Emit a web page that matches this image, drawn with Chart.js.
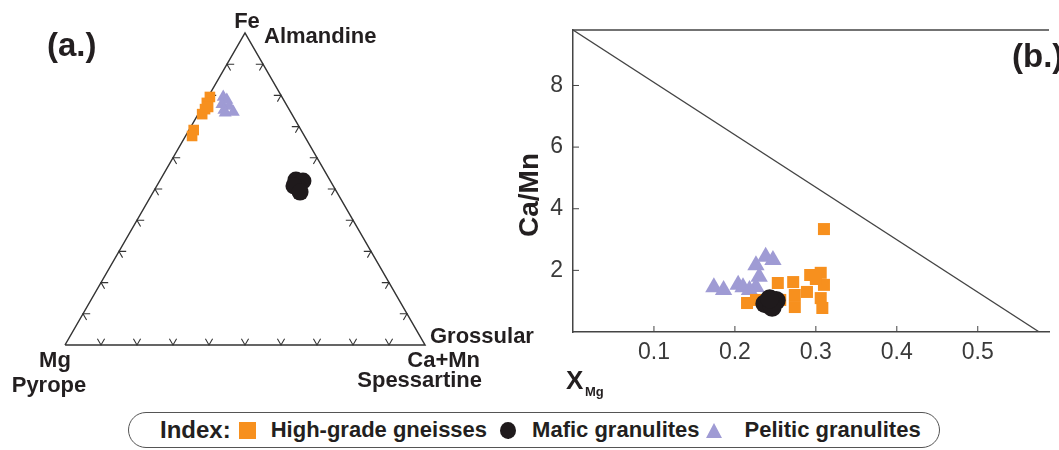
<!DOCTYPE html>
<html lang="en">
<head>
<meta charset="UTF-8">
<title>Garnet composition</title>
<style>
  body { margin: 0; background: #fff; font-family: "Liberation Sans", Arial, sans-serif; color: #231f20; }
  #wrap { position: relative; width: 1059px; height: 450px; overflow: hidden; }
  #ternary { position: absolute; left: 0; top: 0; }
  #ratio { position: absolute; left: 480px; top: 0; }
  .legend {
    position: absolute; left: 128px; top: 412px; width: 812px; height: 36px;
    box-sizing: border-box; border: 1.5px solid #555; border-radius: 18px;
    display: flex; align-items: center; padding-left: 31px;
    font-weight: bold; font-size: 22px; white-space: nowrap;
  }
  .legend .idx { font-size: 24px; }
  .sq { width: 17px; height: 17px; background: #f7901e; margin-left: 8px; }
  .dot { width: 16px; height: 17px; border-radius: 50%; background: #1f1a1c; margin-left: 13px; }
  .tri { width: 0; height: 0; border-left: 8.5px solid transparent; border-right: 8.5px solid transparent;
         border-bottom: 15px solid #9f9bd4; margin-left: 6px; }
</style>
</head>
<body>
<div id="wrap">
  <canvas id="ternary" width="540" height="410"></canvas>
  <canvas id="ratio" width="579" height="410"></canvas>
  <div class="legend">
    <span class="idx">Index:</span>
    <span class="sq"></span><span style="margin-left:15px">High-grade gneisses</span>
    <span class="dot"></span><span style="margin-left:16px">Mafic granulites</span>
    <span class="tri"></span><span style="margin-left:23px">Pelitic granulites</span>
  </div>
</div>

<script src="https://cdn.jsdelivr.net/npm/chart.js"></script>
<script>
// ternary compositions, [Mg, Fe, Ca+Mn]
const triangleCorners = [[1, 0, 0], [0, 1, 0], [0, 0, 1], [1, 0, 0]];
const tickFractions = [0.1, 0.2, 0.3, 0.4, 0.5, 0.6, 0.7, 0.8, 0.9];
const gneissTernary = [[0.200, 0.795, 0.005], [0.218, 0.776, 0.006], [0.233, 0.756, 0.011], [0.249, 0.740, 0.011],
                       [0.221, 0.763, 0.016], [0.298, 0.689, 0.013], [0.312, 0.670, 0.018]];
const maficTernary = [[0.094, 0.529, 0.377], [0.076, 0.526, 0.398], [0.099, 0.503, 0.398], [0.109, 0.510, 0.381],
                      [0.102, 0.490, 0.408]];
const peliticTernary = [[0.163, 0.795, 0.042], [0.158, 0.785, 0.057], [0.178, 0.772, 0.050], [0.161, 0.766, 0.073],
                        [0.182, 0.753, 0.065], [0.159, 0.747, 0.094], [0.183, 0.744, 0.073]];

// X_Mg vs Ca/Mn
const gneissXMg  = [0.310, 0.306, 0.310, 0.306, 0.308, 0.293, 0.289, 0.274, 0.272, 0.274, 0.256, 0.253, 0.226, 0.215, 0.300];
const gneissCaMn = [3.34, 1.92, 1.53, 1.10, 0.78, 1.85, 1.30, 0.81, 1.62, 1.20, 1.04, 1.59, 1.04, 0.94, 1.72];
const maficXMg   = [0.237, 0.251, 0.246, 0.243];
const maficCaMn  = [0.92, 1.02, 0.80, 1.08];
const peliticXMg  = [0.174, 0.186, 0.204, 0.210, 0.226, 0.238, 0.247, 0.230, 0.226, 0.218];
const peliticCaMn = [1.45, 1.36, 1.53, 1.45, 2.17, 2.44, 2.34, 1.79, 1.46, 1.36];
const limitXMg  = [0, 0.576];
const limitCaMn = [9.8, 0];
const xTicks = [0.1, 0.2, 0.3, 0.4, 0.5];
const yTicks = [2, 4, 6, 8];

const FONT = '"Liberation Sans", Arial, sans-serif';
const INK = '#231f20';
const ORANGE = '#f7901e', BLACK = '#1f1a1c', LILAC = '#9f9bd4';
Chart.defaults.font.family = FONT;

const H = Math.sqrt(3) / 2;
function toXY(c) {
  const s = c[0] + c[1] + c[2];
  const fe = c[1] / s, ca = c[2] / s;
  return { x: ca + fe / 2, y: fe * H };
}
const pairs = (xs, ys) => xs.map((v, i) => ({ x: v, y: ys[i] }));

// ---- (a.) ternary ----
const ternaryDecor = {
  id: 'ternaryDecor',
  beforeDatasetsDraw(chart) {
    const { ctx, scales: { x, y } } = chart;
    const arm = 0.02;
    const sides = [
      { at: t => [1 - t, 0, t], arms: [[0.5, H], [-0.5, H]] },
      { at: t => [1 - t, t, 0], arms: [[1, 0], [0.5, -H]] },
      { at: t => [0, t, 1 - t], arms: [[-1, 0], [-0.5, -H]] }
    ];
    ctx.save();
    ctx.strokeStyle = '#333';
    ctx.lineWidth = 1.1;
    sides.forEach(side => {
      tickFractions.forEach(t => {
        const p = toXY(side.at(t));
        ctx.beginPath();
        ctx.moveTo(x.getPixelForValue(p.x + side.arms[0][0] * arm), y.getPixelForValue(p.y + side.arms[0][1] * arm));
        ctx.lineTo(x.getPixelForValue(p.x), y.getPixelForValue(p.y));
        ctx.lineTo(x.getPixelForValue(p.x + side.arms[1][0] * arm), y.getPixelForValue(p.y + side.arms[1][1] * arm));
        ctx.stroke();
      });
    });
    ctx.restore();
  },
  afterDraw(chart) {
    const { ctx, scales: { x, y } } = chart;
    const pix = c => { const p = toXY(c); return [x.getPixelForValue(p.x), y.getPixelForValue(p.y)]; };
    const [mgX, mgY] = pix([1, 0, 0]);
    const [feX, feY] = pix([0, 1, 0]);
    const [caX, caY] = pix([0, 0, 1]);
    ctx.save();
    ctx.fillStyle = INK;
    ctx.textBaseline = 'alphabetic';
    ctx.font = 'bold 33px ' + FONT;
    ctx.textAlign = 'left';
    ctx.fillText('(a.)', 47, 56);
    ctx.font = 'bold 22px ' + FONT;
    ctx.textAlign = 'center';
    ctx.fillText('Fe', feX + 2, feY - 5);
    ctx.fillText('Mg', mgX - 10, mgY + 22);
    ctx.fillText('Pyrope', mgX - 16, mgY + 47);
    ctx.textAlign = 'left';
    ctx.fillText('Almandine', feX + 19, feY + 10);
    ctx.fillText('Grossular', caX + 5, caY - 2);
    ctx.textAlign = 'right';
    ctx.fillText('Ca+Mn', caX + 55, caY + 22);
    ctx.fillText('Spessartine', caX + 57, caY + 42);
    ctx.restore();
  }
};

new Chart(document.getElementById('ternary'), {
  type: 'scatter',
  data: {
    datasets: [
      { label: 'Mafic granulites', data: maficTernary.map(toXY), pointStyle: 'circle', pointRadius: 8.5,
        backgroundColor: BLACK, borderWidth: 0, clip: false },
      { label: 'High-grade gneisses', data: gneissTernary.map(toXY), pointStyle: 'rect', pointRadius: 7.5,
        backgroundColor: ORANGE, borderWidth: 0, clip: false },
      { label: 'Pelitic granulites', data: peliticTernary.map(toXY), pointStyle: 'triangle', pointRadius: 7.5,
        backgroundColor: LILAC, borderWidth: 0, clip: false },
      { type: 'line', data: triangleCorners.map(toXY), borderColor: '#333', borderWidth: 1.5,
        pointRadius: 0, fill: false, clip: false }
    ]
  },
  options: {
    responsive: false, animation: false, devicePixelRatio: 1,
    layout: { padding: { left: 65, right: 115, top: 33, bottom: 65 } },
    scales: {
      x: { type: 'linear', min: 0, max: 1, display: false },
      y: { type: 'linear', min: 0, max: H, display: false }
    },
    plugins: { legend: { display: false }, tooltip: { enabled: false } }
  },
  plugins: [ternaryDecor]
});

// ---- (b.) X_Mg vs Ca/Mn ----
const ratioDecor = {
  id: 'ratioDecor',
  afterDraw(chart) {
    const { ctx, chartArea: a, scales: { x, y } } = chart;
    ctx.save();
    ctx.strokeStyle = '#444';
    ctx.lineWidth = 1.5;
    ctx.beginPath();
    ctx.moveTo(a.left, a.top);
    ctx.lineTo(a.right, a.top);
    ctx.stroke();
    ctx.lineWidth = 1;
    xTicks.forEach(v => {
      const p = x.getPixelForValue(v);
      ctx.beginPath(); ctx.moveTo(p, a.bottom); ctx.lineTo(p, a.bottom - 6); ctx.stroke();
    });
    yTicks.forEach(v => {
      const p = y.getPixelForValue(v);
      ctx.beginPath(); ctx.moveTo(a.left, p); ctx.lineTo(a.left + 6, p); ctx.stroke();
    });
    ctx.fillStyle = INK;
    ctx.textBaseline = 'alphabetic';
    ctx.textAlign = 'left';
    ctx.font = 'bold 33px ' + FONT;
    ctx.fillText('(b.)', 532, 67);
    ctx.font = 'bold 26px ' + FONT;
    ctx.fillText('X', a.left - 7, 389);
    ctx.font = 'bold 13px ' + FONT;
    ctx.fillText('Mg', a.left + 12, 396);
    ctx.translate(50, 195);
    ctx.rotate(-Math.PI / 2);
    ctx.textAlign = 'center';
    ctx.textBaseline = 'middle';
    ctx.font = 'bold 28px ' + FONT;
    ctx.fillText('Ca/Mn', 0, 0);
    ctx.restore();
  }
};

const tickFont = { size: 23 };
new Chart(document.getElementById('ratio'), {
  type: 'scatter',
  data: {
    datasets: [
      { label: 'Mafic granulites', data: pairs(maficXMg, maficCaMn), pointStyle: 'circle', pointRadius: 9.5,
        backgroundColor: BLACK, borderWidth: 0 },
      { label: 'High-grade gneisses', data: pairs(gneissXMg, gneissCaMn), pointStyle: 'rect', pointRadius: 8.5,
        backgroundColor: ORANGE, borderWidth: 0 },
      { label: 'Pelitic granulites', data: pairs(peliticXMg, peliticCaMn), pointStyle: 'triangle', pointRadius: 10,
        backgroundColor: LILAC, borderWidth: 0 },
      { type: 'line', data: pairs(limitXMg, limitCaMn), borderColor: '#444', borderWidth: 1.3,
        pointRadius: 0, fill: false }
    ]
  },
  options: {
    responsive: false, animation: false, devicePixelRatio: 1,
    layout: { padding: { left: 0, right: 0, top: 30, bottom: 0 } },
    scales: {
      x: {
        type: 'linear', min: 0, max: 0.588,
        afterFit: s => { s.height = 78; },
        afterBuildTicks: s => { s.ticks = xTicks.map(v => ({ value: v })); },
        ticks: { font: tickFont, color: '#3a3a3a', padding: 7, callback: v => v.toFixed(1) },
        grid: { drawOnChartArea: false, drawTicks: false },
        border: { color: '#444', width: 1.5 }
      },
      y: {
        type: 'linear', min: 0, max: 9.8,
        afterFit: s => { s.width = 93; },
        afterBuildTicks: s => { s.ticks = yTicks.map(v => ({ value: v })); },
        ticks: { font: tickFont, color: '#3a3a3a', padding: 10, callback: v => String(v) },
        grid: { drawOnChartArea: false, drawTicks: false },
        border: { color: '#444', width: 1.5 }
      }
    },
    plugins: { legend: { display: false }, tooltip: { enabled: false } }
  },
  plugins: [ratioDecor]
});
</script>
</body>
</html>
